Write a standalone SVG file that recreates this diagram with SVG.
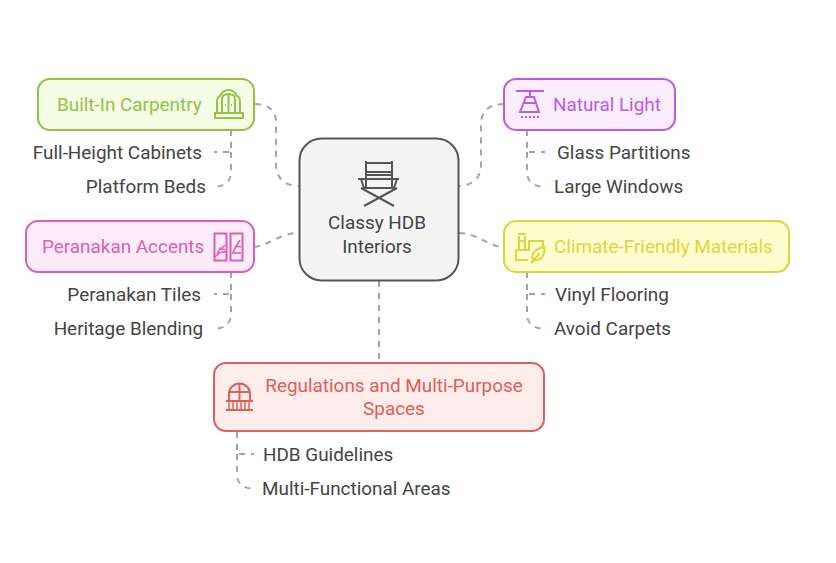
<svg xmlns="http://www.w3.org/2000/svg" width="836" height="563" viewBox="0 0 836 563">
<style>
text{font-family:Roboto,"Liberation Sans",sans-serif;font-size:18.900px;fill:#444}
.c{fill:none;stroke:#a3a3a3;stroke-width:2;stroke-dasharray:6 6}
.box{stroke-width:2}
.ic{fill:none;stroke-width:2}
.thin{fill:none;stroke-width:1.500}
.g path,.g rect{stroke:#93c24a}.g text{fill:#93c24a}
.p path,.p rect{stroke:#bb5ce3}.p text{fill:#bb5ce3}
.y path,.y rect{stroke:#dcd63c}.y text{fill:#dcd63c}
.k path,.k rect{stroke:#dd5fae}.k text{fill:#dd5fae}
.r path,.r rect{stroke:#dd6058}.r text{fill:#dd6058}
</style>
<rect width="836" height="563" fill="#fff"/>
<g id="connectors">
<path class="c" d="M255 104C268 104 276 110 276 122V165C276 178 285 186 299 186"/>
<path class="c" d="M504 104C490 104 481 110 481 125V165C481 178 472 186 459 186"/>
<path class="c" d="M254 247C270 245 280 233 299 233"/>
<path class="c" d="M459 233C478 233 488 247 504 247"/>
<path class="c" d="M379 281V363"/>
<path class="c" d="M231 130V152H214"/>
<path class="c" d="M231 152V172Q231 186 214 187"/>
<path class="c" d="M527 130V152H545"/>
<path class="c" d="M527 152V172Q527 186 545 187"/>
<path class="c" d="M231 272V294H214"/>
<path class="c" d="M231 294V314Q231 328 214 329"/>
<path class="c" d="M527 272V294H545"/>
<path class="c" d="M527 294V314Q527 328 545 329"/>
<path class="c" d="M237 432V454H254"/>
<path class="c" d="M237 454V474Q237 488 254 489"/>
</g>
<g id="center">
<rect x="299.500" y="138.500" width="159" height="142" rx="22" fill="#f4f4f4" stroke="#555" stroke-width="2"/>
<path fill="none" stroke="#555" stroke-width="2" d="M366 161V187M392 161V187M366 163H392M366 172H392M366 175H392M358 179H399M361 179L364 188H394L397 179M361 188L394 206M397 188L364 206"/>
<text x="377" y="229" text-anchor="middle">Classy HDB</text>
<text x="377" y="253" text-anchor="middle">Interiors</text>
</g>
<g id="built-in-carpentry" class="g">
<rect class="box" x="38" y="79" width="216" height="51" rx="12" fill="#f5fde5"/>
<text x="57" y="111">Built-In Carpentry</text>
<path class="ic" d="M217 112V102Q217 97 220 96Q223 90 228.500 90Q234 90 237 96Q240 97 240 102V112M222 112V99Q222 94 228.500 94Q235 94 235 99V112M228.500 94V112M215 113H243V118H215ZM225 105H226M231 105H232"/>
</g>
<g id="natural-light" class="p">
<rect class="box" x="504" y="79" width="171" height="51" rx="12" fill="#faeefe"/>
<text x="553" y="111">Natural Light</text>
<path class="ic" d="M516 91H544M530 91V97M526 97H534L539 112H520ZM523 103H537"/>
<path class="ic" stroke-dasharray="2 2" d="M521 117H539"/>
</g>
<g id="climate-friendly-materials" class="y">
<rect class="box" x="504" y="221" width="285" height="51" rx="12" fill="#fdfdcf"/>
<text x="554" y="253">Climate-Friendly Materials</text>
<path class="ic" d="M519 236V250M525 236V250M518 234H526M519 241H525M516 250H529V241H543V247M516 250V260H528"/>
<path class="ic" d="M533 260C530 253 537 248 544 247C545 253 543 260 536 260H533M531 263L540 253"/>
</g>
<g id="peranakan-accents" class="k">
<rect class="box" x="26" y="221" width="228" height="51" rx="12" fill="#fdebf7"/>
<text x="42" y="253">Peranakan Accents</text>
<rect class="ic" x="214.500" y="233.500" width="12" height="27"/>
<rect class="ic" x="230.500" y="233.500" width="12" height="27"/>
<path class="thin" d="M215 257Q220 251 226 252M225 245L217 253M219 248L225 250M240 240L233 252M235 246L241 247M232 253H241"/>
</g>
<g id="regulations" class="r">
<rect class="box" x="214" y="363" width="330" height="68" rx="12" fill="#fcecea"/>
<text x="394" y="392" text-anchor="middle">Regulations and Multi-Purpose</text>
<text x="394" y="415" text-anchor="middle">Spaces</text>
<path class="ic" d="M229 400V394A10.500 10.500 0 0 1 250 394V400M239.500 384V400M229 392H250M226 401H253M226 410H253"/>
<path class="thin" d="M229 402V409M233 402V409M237 402V409M241 402V409M245 402V409M249 402V409"/>
</g>
<g id="full-height-cabinets"><text x="202" y="159" text-anchor="end">Full-Height Cabinets</text></g>
<g id="platform-beds"><text x="206" y="193" text-anchor="end">Platform Beds</text></g>
<g id="peranakan-tiles"><text x="201" y="301" text-anchor="end">Peranakan Tiles</text></g>
<g id="heritage-blending"><text x="203" y="335" text-anchor="end">Heritage Blending</text></g>
<g id="glass-partitions"><text x="557" y="159">Glass Partitions</text></g>
<g id="large-windows"><text x="554" y="193">Large Windows</text></g>
<g id="vinyl-flooring"><text x="555" y="301">Vinyl Flooring</text></g>
<g id="avoid-carpets"><text x="554" y="335">Avoid Carpets</text></g>
<g id="hdb-guidelines"><text x="263" y="461">HDB Guidelines</text></g>
<g id="multi-functional-areas"><text x="262" y="495">Multi-Functional Areas</text></g>
</svg>
